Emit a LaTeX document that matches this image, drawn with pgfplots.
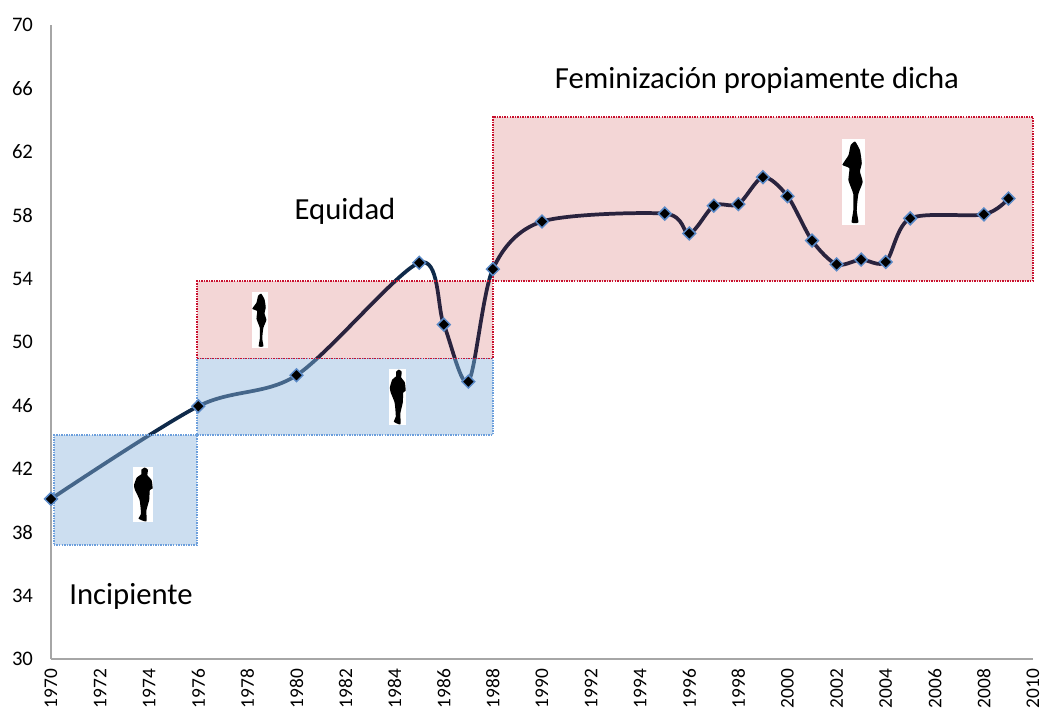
\documentclass[border=0pt]{standalone}
\usepackage{pgfplots}
\usepackage{fontspec}
\setmainfont{Carlito}
\pgfplotsset{compat=1.18}
\definecolor{axisgray}{HTML}{A6A6A6}
\definecolor{linenavy}{RGB}{15,42,74}
\definecolor{markedge}{HTML}{5A8AC8}
\definecolor{bluefill}{RGB}{140,180,220}
\definecolor{blueedge}{HTML}{6C9FDC}
\definecolor{redfill}{RGB}{181,0,0}
\definecolor{rededge}{HTML}{C8102E}
\newcommand{\manicon}[4]{%
  \fill[white] (#1,#2) rectangle (#3,#4);
  \begin{scope}[shift={(#1,#4)},xscale={#3-#1},yscale={#2-#4}]
  \fill[black] plot[smooth cycle,tension=.3] coordinates {(.58,.01)(.75,.05)(.72,.15)(.93,.24)(.98,.39)(.84,.42)(.81,.6)(.67,.79)(.67,.99)(.28,.94)(.4,.85)(.33,.6)(.1,.42)(.05,.33)(.19,.19)(.42,.13)(.42,.05)};
  \end{scope}}
\newcommand{\womanicon}[4]{%
  \fill[white] (#1,#2) rectangle (#3,#4);
  \begin{scope}[shift={(#1,#4)},xscale={#3-#1},yscale={#2-#4}]
  \fill[black] plot[smooth cycle,tension=.3] coordinates {(.57,.03)(.78,.13)(.86,.28)(.78,.38)(.9,.5)(.71,.64)(.64,.83)(.71,.97)(.42,.97)(.49,.83)(.49,.64)(.28,.48)(.32,.34)(.02,.3)(.28,.19)(.38,.07)};
  \end{scope}}
\begin{document}
\begin{tikzpicture}
\useasboundingbox (0,0) rectangle (780pt,531pt);
\begin{axis}[
  at={(38.25pt,36.75pt)},anchor=south west,
  scale only axis,width=736.5pt,height=475.5pt,
  xmin=1970,xmax=2010,ymin=30,ymax=70,
  axis x line*=bottom,axis y line*=left,
  axis line style={draw=axisgray,line width=.9pt,-},
  xtick={1970,1972,...,2010},ytick={30,34,...,70},
  major tick length=0pt,
  tick style={draw=none},
  x tick label style={rotate=90,anchor=east,font=\fontsize{14.5}{16}\selectfont,/pgf/number format/1000 sep=},
  y tick label style={font=\fontsize{15.5}{17}\selectfont,anchor=east},
  xticklabel style={/pgf/number format/assume math mode=true},
  yticklabel style={/pgf/number format/assume math mode=true},
  xtick pos=bottom,ytick pos=left,
  xticklabel shift=4pt,yticklabel shift=10pt,
  clip=false,
]
\addplot[color=linenavy,line width=2.8pt,smooth,tension=.5,
  mark=diamond*,mark size=4.8pt,
  mark options={solid,fill=black,draw=markedge,line width=1.1pt,xscale=1.33}]
  coordinates {
  (1970,40.1)(1976,45.95)(1980,47.9)(1985,55.0)(1986,51.1)(1987,47.5)(1988,54.6)
  (1990,57.6)(1995,58.1)(1996,56.85)(1997,58.6)(1998,58.7)(1999,60.4)(2000,59.2)
  (2001,56.4)(2002,54.9)(2003,55.2)(2004,55.05)(2005,57.8)(2008,58.05)(2009,59.05)};
\addplot[draw=blueedge,draw opacity=1,fill=bluefill,fill opacity=.44,line width=1.05pt,dash pattern=on 1.1pt off .8pt]
  coordinates {(1970.12,37.19)(1975.95,37.19)(1975.95,44.13)(1970.12,44.13)} --cycle;
\addplot[draw=blueedge,draw opacity=1,fill=bluefill,fill opacity=.44,line width=1.05pt,dash pattern=on 1.1pt off .8pt]
  coordinates {(1975.95,44.13)(1988,44.13)(1988,48.96)(1975.95,48.96)} --cycle;
\addplot[draw=rededge,draw opacity=1,fill=redfill,fill opacity=.16,line width=1.05pt,dash pattern=on 1.1pt off .8pt]
  coordinates {(1975.95,48.96)(1988,48.96)(1988,53.85)(1975.95,53.85)} --cycle;
\addplot[draw=rededge,draw opacity=1,fill=redfill,fill opacity=.16,line width=1.05pt,dash pattern=on 1.1pt off .8pt]
  coordinates {(1988,53.85)(2010,53.85)(2010,64.2)(1988,64.2)} --cycle;
\end{axis}
\begin{scope}[x=.75pt,y=.75pt]
\manicon{133}{186}{153}{241}
\womanicon{252}{360}{268}{416}
\manicon{389}{283}{406}{339}
\womanicon{842}{483}{865}{569}
\node[font=\fontsize{23}{26}\selectfont] at (131,112) {Incipiente};
\node[font=\fontsize{23}{26}\selectfont] at (345,497) {Equidad};
\node[font=\fontsize{23}{26}\selectfont] at (757,628) {Feminización propiamente dicha};
\end{scope}
\end{tikzpicture}
\end{document}
